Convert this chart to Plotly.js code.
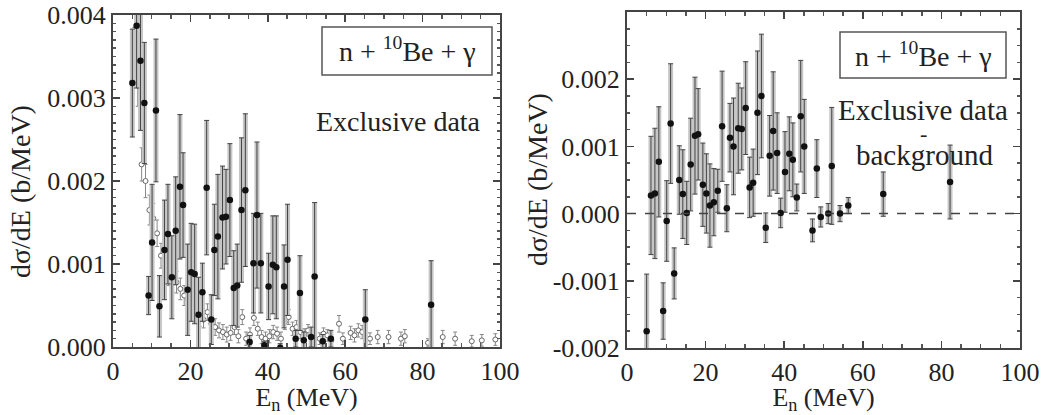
<!DOCTYPE html>
<html><head><meta charset="utf-8">
<script src="https://cdn.plot.ly/plotly-3.0.1.min.js"></script>
<style>html,body{margin:0;padding:0;background:#fff}#chart{width:1043px;height:415px}</style>
</head><body><div id="chart"></div>
<script>
// Neutron energies (MeV) of the exclusive-data points (shared by both panels)
const energy = [5.0,6.1,7.1,8.1,9.2,10.1,11.1,12.0,13.3,14.2,15.2,16.2,17.3,18.1,19.3,20.2,21.1,22.1,23.1,24.2,
  25.4,26.2,27.1,28.3,29.2,30.2,31.2,32.1,33.2,34.2,35.3,36.3,37.2,38.2,39.1,40.2,41.3,42.2,43.2,44.2,
  45.1,47.2,48.3,49.3,51.2,52.1,54.2,56.3,65.2,82.2];
// Left panel: exclusive data, in units of 1e-3 b/MeV
const exclusive = [3.18,3.87,3.45,2.94,0.62,1.26,2.85,0.49,1.17,1.36,0.84,1.40,1.93,1.71,0.69,0.90,0.88,0.39,0.66,1.92,
  0.33,1.17,1.33,1.56,1.57,1.77,0.71,0.74,1.65,1.89,0.06,1.01,1.59,1.01,0.02,0.73,0.99,0.96,-0.01,0.73,
  1.05,0.10,0.65,0.08,0.12,0.85,0.07,0.10,0.33,0.51];
const exclusiveErr = [0.65,0.75,0.84,0.73,0.23,0.70,0.86,0.37,0.60,0.60,0.50,0.65,0.87,0.63,0.55,0.59,0.60,0.45,0.35,0.81,
  0.30,0.55,0.75,0.62,0.57,0.68,0.45,0.50,0.87,0.92,0.08,0.60,0.88,0.60,0.05,0.40,0.59,0.62,0.05,0.50,
  0.67,0.10,0.45,0.10,0.12,0.89,0.08,0.10,0.36,0.53];
// Left panel: background (open symbols), units of 1e-3 b/MeV
const bgEnergy = [5.5,6.4,7.4,8.4,9.4,10.4,11.4,12.4,13.4,14.4,15.4,16.4,17.4,18.4,19.4,20.4,21.4,22.4,23.4,24.4,
  25.4,26.4,27.4,28.4,29.4,30.4,31.4,32.4,33.4,34.4,35.4,36.4,37.4,38.4,39.4,40.4,41.4,42.4,43.4,44.4,
  45.4,46.4,47.4,48.4,49.4,50.4,51.4,53.4,54.4,55.4,56.4,58.4,59.4,61.4,62.4,63.4,64.4,66.4,68.4,71.2,
  74.4,75.4,81.4,85.2,88.4,92.7,95.3,98.8];
const background = [3.60,3.15,2.20,2.00,1.65,1.55,1.37,1.10,0.98,0.88,0.80,0.78,0.70,0.62,0.57,0.52,0.45,0.36,0.33,0.42,
  0.28,0.24,0.20,0.18,0.15,0.17,0.24,0.13,0.36,0.10,0.15,0.35,0.22,0.12,0.10,0.13,0.18,0.16,0.10,0.30,
  0.36,0.22,0.24,0.18,0.15,0.20,0.12,0.10,0.16,0.14,0.08,0.28,0.10,0.17,0.14,0.20,0.18,0.10,0.12,0.12,
  0.10,0.13,0.05,0.12,0.10,0.07,0.08,0.09];
const backgroundErr = [0.25,0.25,0.20,0.20,0.18,0.18,0.16,0.15,0.15,0.14,0.14,0.13,0.13,0.12,0.12,0.12,0.11,0.11,0.10,0.10,
  0.10,0.10,0.09,0.09,0.09,0.09,0.09,0.08,0.09,0.08,0.08,0.09,0.08,0.08,0.08,0.08,0.08,0.08,0.08,0.09,
  0.09,0.08,0.08,0.08,0.07,0.07,0.07,0.07,0.07,0.07,0.07,0.10,0.07,0.08,0.08,0.08,0.08,0.07,0.08,0.08,
  0.08,0.08,0.05,0.08,0.08,0.07,0.07,0.07];
// Right panel: exclusive data minus background, units of 1e-3 b/MeV
const subtracted = [-1.75,0.27,0.30,0.77,-1.45,-0.11,1.34,-0.89,0.50,0.29,0.01,0.73,1.16,1.18,0.43,0.30,0.12,0.17,0.34,1.30,
  0.08,1.13,1.00,1.27,1.26,1.57,0.39,0.46,1.50,1.75,-0.21,0.86,1.23,0.90,0.01,0.62,0.89,0.80,0.24,1.45,
  1.00,-0.25,0.67,-0.05,0.00,0.71,0.00,0.12,0.29,0.47];
const subtractedErr = [0.85,0.88,0.97,0.82,0.42,0.60,0.89,0.38,0.51,0.66,0.47,0.69,0.87,0.68,0.62,0.59,0.62,0.50,0.32,0.82,
  0.35,0.51,0.72,0.67,0.61,0.69,0.45,0.50,0.92,0.92,0.22,0.60,0.88,0.60,0.22,0.60,0.55,0.55,0.20,0.83,
  0.70,0.17,0.43,0.15,0.15,0.87,0.12,0.12,0.33,0.55];
const xTickVals = [0,20,40,60,80,100];
const yLeftTickVals = [0,0.001,0.002,0.003,0.004];
const yLeftTickText = ['0.000','0.001','0.002','0.003','0.004'];
const yRightTickVals = [-0.002,-0.001,0,0.001,0.002,0.003];
const yRightTickText = ['-0.002','-0.001','0.000','0.001','0.002','0.003'];

const s = v => v.map(a => a * 1e-3);
const FONT = 'Liberation Serif, Times New Roman, serif';
const W = 1043, H = 415;

function band(x, y, e, xa, ya) {
  return {x, y: s(y), xaxis: xa, yaxis: ya, type: 'scatter', mode: 'markers', showlegend: false, hoverinfo: 'skip',
    marker: {size: 1, color: 'rgba(0,0,0,0)'},
    error_y: {type: 'data', array: s(e), visible: true, color: '#c6c6c6', thickness: 5, width: 0}};
}
function pts(x, y, e, xa, ya) {
  return {x, y: s(y), xaxis: xa, yaxis: ya, type: 'scatter', mode: 'markers', showlegend: false,
    marker: {size: 6.5, color: '#111', symbol: 'circle'},
    error_y: {type: 'data', array: s(e), visible: true, color: '#444', thickness: 1, width: 2.5}};
}
const traces = [
  {x: bgEnergy, y: s(background), xaxis: 'x', yaxis: 'y', type: 'scatter', mode: 'markers', showlegend: false,
    marker: {size: 5, color: 'white', symbol: 'circle', line: {color: '#666', width: 1}},
    error_y: {type: 'data', array: s(backgroundErr), visible: true, color: '#888', thickness: 1, width: 2}},
  band(energy, exclusive, exclusiveErr, 'x', 'y'),
  pts(energy, exclusive, exclusiveErr, 'x', 'y'),
  band(energy, subtracted, subtractedErr, 'x2', 'y2'),
  pts(energy, subtracted, subtractedErr, 'x2', 'y2')
];

function xax(domain) {
  return {domain, range: [0, 100], tickmode: 'array', tickvals: xTickVals, ticks: 'inside', ticklen: 7, tickwidth: 1.5,
    tickcolor: '#444', showline: true, linewidth: 2, linecolor: '#444', mirror: 'ticks', showgrid: false, zeroline: false,
    minor: {dtick: 5, tick0: 0, ticks: 'inside', ticklen: 4, tickcolor: '#555', showgrid: false},
    tickfont: {family: FONT, size: 26, color: '#222'},
    title: {text: 'E<sub>n</sub> (MeV)', font: {family: FONT, size: 26, color: '#222'}, standoff: 3}};
}
function yax(domain, range, vals, text, minorDt) {
  return {domain, range, tickmode: 'array', tickvals: vals, ticktext: text, ticks: 'inside', ticklen: 7, tickwidth: 1.5,
    tickcolor: '#444', showline: true, linewidth: 2, linecolor: '#444', mirror: 'ticks', showgrid: false, zeroline: false,
    minor: {dtick: minorDt, tick0: 0, ticks: 'inside', ticklen: 3, tickcolor: '#555', showgrid: false},
    tickfont: {family: FONT, size: 26, color: '#222'}};
}

function note(x, y, text, extra) {
  return Object.assign({xref: 'paper', yref: 'paper', x: x / W, y: 1 - y / H, xanchor: 'center', yanchor: 'middle',
    text, showarrow: false, font: {family: FONT, size: 28, color: '#222'}}, extra || {});
}
function box(x0, y0, x1, y1) {
  return {type: 'rect', xref: 'paper', yref: 'paper', x0: x0 / W, x1: x1 / W, y0: 1 - y1 / H, y1: 1 - y0 / H,
    line: {color: '#555', width: 1.5}, fillcolor: 'white', layer: 'above'};
}

const layout = {
  width: W, height: H, margin: {l: 0, r: 0, t: 0, b: 0},
  font: {family: FONT},
  paper_bgcolor: 'white', plot_bgcolor: 'white', showlegend: false,
  xaxis: Object.assign(xax([113 / W, 500 / W]), {anchor: 'y'}),
  yaxis: Object.assign(yax([1 - 347 / H, 1 - 15 / H], [0, 0.004], yLeftTickVals, yLeftTickText, 0.0001), {anchor: 'x'}),
  xaxis2: Object.assign(xax([627 / W, 1020 / W]), {anchor: 'y2'}),
  yaxis2: Object.assign(yax([1 - 348 / H, 1 - 12 / H], [-0.002, 0.003], yRightTickVals, yRightTickText, 0.00025), {anchor: 'x2'}),
  shapes: [
    {type: 'line', xref: 'x2', yref: 'y2', x0: 0, x1: 100, y0: 0, y1: 0, line: {color: '#444', width: 1.5, dash: 'dash'}},
    box(322, 27, 492, 75),
    box(840, 32, 1006, 78)
  ],
  annotations: [
    note(20, 192, 'dσ/dE (b/MeV)', {textangle: -90, font: {family: FONT, size: 28, color: '#222'}}),
    note(537, 180, 'dσ/dE (b/MeV)', {textangle: -90, font: {family: FONT, size: 28, color: '#222'}}),
    note(407, 50, 'n + <sup>10</sup>Be + γ'),
    note(398, 122, 'Exclusive data'),
    note(923, 55, 'n + <sup>10</sup>Be + γ'),
    note(923, 110, 'Exclusive data', {font: {family: FONT, size: 29, color: '#222'}}),
    note(923, 133, '-', {font: {family: FONT, size: 22, color: '#222'}}),
    note(924, 155, 'background', {font: {family: FONT, size: 29, color: '#222'}})
  ]
};
Plotly.newPlot('chart', traces, layout, {staticPlot: true});
</script></body></html>
